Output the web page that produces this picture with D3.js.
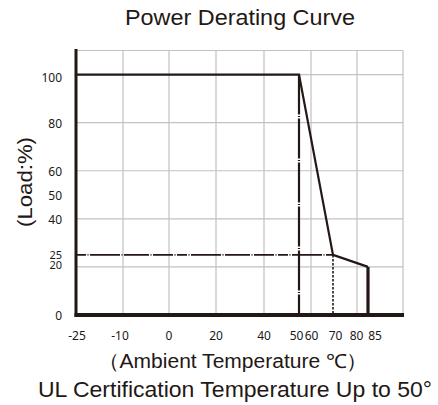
<!DOCTYPE html>
<html>
<head>
<meta charset="utf-8">
<script src="https://cdn.jsdelivr.net/npm/d3@7"></script>
<style>
  body { margin: 0; background: #fff; }
  text { fill: #231815; }
</style>
</head>
<body>
<svg id="chart" width="438" height="405"></svg>
<script>
// chart data
const xTicks = [-25, -10, 0, 20, 40, 50, 60, 70, 80, 85];
const xGrid = [-25, -10, 0, 20, 40, 60, 80, 100];
const yTicks = [0, 20, 25, 40, 50, 60, 80, 100];
const yGrid = [20, 40, 60, 80, 100, 110];
const curveTemp = [-25, 50, 70, 85, 85];
const curveLoad = [100, 100, 25, 20, 0];
const refTemp = [50, 70];   // reference drop lines
const refLoad = 25;

const svg = d3.select("#chart");
const ink = "#231815";

// the printed x axis is not linear, so use a piecewise scale
const x = d3.scaleLinear()
    .domain([-25, -10, 0, 20, 40, 50, 60, 70, 80, 85, 100])
    .range([76, 123, 169, 216, 264, 299, 311, 333, 357, 368, 403]);

const y = d3.scaleLinear()
    .domain([0, 110])
    .range([315, 50.5]);

// grid
svg.append("g")
    .selectAll("line")
    .data(yGrid)
    .join("line")
        .attr("x1", x(-25)).attr("x2", x(100))
        .attr("y1", d => y(d)).attr("y2", d => y(d))
        .attr("stroke", "#c2c2c2").attr("stroke-width", 1.2);

svg.append("g")
    .selectAll("line")
    .data(xGrid)
    .join("line")
        .attr("x1", d => x(d)).attr("x2", d => x(d))
        .attr("y1", y(0)).attr("y2", y(110))
        .attr("stroke", "#c2c2c2").attr("stroke-width", 1.2);

// reference lines
svg.append("line")
    .attr("x1", x(-25)).attr("x2", x(refTemp[1]))
    .attr("y1", y(refLoad)).attr("y2", y(refLoad))
    .attr("stroke", ink).attr("stroke-width", 1.8)
    .attr("stroke-dasharray", "10,1.5,1,1.5,30,1.5,1,1.5,25,1.5,1,1.5,20,1.5,1,1.5");

svg.append("line")
    .attr("x1", x(refTemp[0])).attr("x2", x(refTemp[0]))
    .attr("y1", y(100)).attr("y2", y(0))
    .attr("stroke", ink).attr("stroke-width", 2.2)
    .attr("stroke-dasharray", "40,1.5,1,1.5");

svg.append("line")
    .attr("x1", x(refTemp[1])).attr("x2", x(refTemp[1]))
    .attr("y1", y(refLoad)).attr("y2", y(0))
    .attr("stroke", ink).attr("stroke-width", 1.6)
    .attr("stroke-dasharray", "2.5,1.5");

// derating curve
const pts = curveTemp.map((t, i) => [x(t), y(curveLoad[i])]);
svg.append("path")
    .attr("d", d3.line()(pts.slice(0, 4)))
    .attr("fill", "none")
    .attr("stroke", ink)
    .attr("stroke-width", 2.2)
    .attr("stroke-linejoin", "miter");

svg.append("path")
    .attr("d", d3.line()(pts.slice(3)))
    .attr("fill", "none")
    .attr("stroke", ink)
    .attr("stroke-width", 3.2);

// axes
svg.append("line")
    .attr("x1", x(-25)).attr("x2", x(-25))
    .attr("y1", y(0) + 2).attr("y2", 49)
    .attr("stroke", ink).attr("stroke-width", 3);

svg.append("line")
    .attr("x1", x(-25) - 1.5).attr("x2", x(100) + 1)
    .attr("y1", y(0)).attr("y2", y(0))
    .attr("stroke", ink).attr("stroke-width", 4);

// tick labels
const tickFont = "'Noto Sans', sans-serif";
const xLabelShift = {"-25": 1, "-10": -3, "50": -2.5, "60": 0.5, "70": 2.5, "80": -0.5, "85": 7};
const yLabelShift = {"100": 7.5, "25": 4, "20": 2, "0": 4.5};

svg.append("g")
    .selectAll("text")
    .data(xTicks)
    .join("text")
        .attr("x", d => x(d) + (xLabelShift[d] || 0))
        .attr("y", 339.5)
        .attr("text-anchor", "middle")
        .attr("font-family", tickFont)
        .attr("font-size", 12)
        .text(d => d);

svg.append("g")
    .selectAll("text")
    .data(yTicks)
    .join("text")
        .attr("x", 62)
        .attr("y", d => y(d) + (yLabelShift[d] !== undefined ? yLabelShift[d] : 5.5))
        .attr("text-anchor", "end")
        .attr("font-family", tickFont)
        .attr("font-size", d => (d === 25 || d === 20) ? 11 : 12)
        .text(d => d);

// titles
const titleFont = "'Liberation Sans', Arial, sans-serif";

svg.append("text")
    .attr("x", 125).attr("y", 25)
    .attr("font-family", titleFont)
    .attr("font-size", 22)
    .attr("textLength", 230)
    .attr("lengthAdjust", "spacingAndGlyphs")
    .text("Power Derating Curve");

svg.append("text")
    .attr("transform", `translate(32,227) rotate(-90)`)
    .attr("font-family", titleFont)
    .attr("font-size", 21)
    .attr("textLength", 90)
    .attr("lengthAdjust", "spacingAndGlyphs")
    .text("(Load:%)");

svg.append("text")
    .attr("x", 98).attr("y", 368)
    .attr("font-family", titleFont)
    .attr("font-size", 19.5)
    .attr("textLength", 270)
    .attr("lengthAdjust", "spacingAndGlyphs")
    .text("（Ambient Temperature ℃）");

svg.append("text")
    .attr("x", 38).attr("y", 397)
    .attr("font-family", titleFont)
    .attr("font-size", 22)
    .attr("textLength", 394)
    .attr("lengthAdjust", "spacingAndGlyphs")
    .text("UL Certification Temperature Up to 50°");
</script>
</body>
</html>
